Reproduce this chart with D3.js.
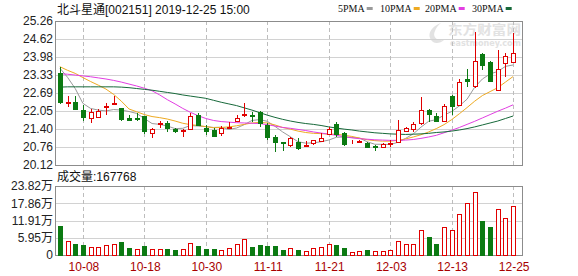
<!DOCTYPE html>
<html>
<head>
<meta charset="utf-8">
<script src="https://cdn.jsdelivr.net/npm/d3@7"></script>
<style>
  body { margin: 0; background: #fff; }
  svg { display: block; font-family: "Liberation Sans", Arial, "Noto Sans CJK SC", sans-serif; }
</style>
</head>
<body>
<svg id="chart" width="578" height="276"></svg>
<script>
var title = "北斗星通[002151] 2019-12-25 15:00";

var dates = ["09-26","09-27","09-30","10-08","10-09","10-10","10-11","10-14","10-15","10-16",
  "10-17","10-18","10-21","10-22","10-23","10-24","10-25","10-28","10-29","10-30",
  "10-31","11-01","11-04","11-05","11-06","11-07","11-08","11-11","11-12","11-13",
  "11-14","11-15","11-18","11-19","11-20","11-21","11-22","11-25","11-26","11-27",
  "11-28","11-29","12-02","12-03","12-04","12-05","12-06","12-09","12-10","12-11",
  "12-12","12-13","12-16","12-17","12-18","12-19","12-20","12-23","12-24","12-25"];

var opens = [23.39,22.33,22.36,22.07,21.78,21.82,22.18,22.30,22.16,21.78,
  21.81,21.88,21.25,21.57,21.61,21.39,21.35,21.39,21.90,21.45,
  21.37,21.25,21.45,21.69,21.92,21.92,22.00,21.55,21.13,20.93,
  20.83,20.95,20.81,20.89,20.97,21.23,21.60,21.25,20.89,20.93,
  20.91,20.79,20.77,20.87,20.95,21.32,21.39,21.61,22.08,21.88,
  21.70,22.58,22.26,23.18,22.93,24.09,23.81,22.80,23.75,23.81];
var highs = [23.63,22.59,22.59,22.26,22.11,22.11,22.34,22.59,22.16,21.90,
  21.96,21.88,21.45,21.69,21.69,21.45,21.40,21.96,21.96,21.55,
  21.43,21.51,21.64,21.90,22.32,22.02,22.05,21.61,21.19,20.95,
  21.13,21.07,20.97,21.03,21.25,21.49,21.65,21.31,21.01,21.01,
  20.95,20.83,20.89,21.01,21.72,21.47,21.64,22.56,22.12,21.96,
  22.28,22.62,23.20,23.53,24.86,24.11,23.83,24.22,24.11,24.82];
var lows = [22.30,22.18,22.08,21.69,21.61,21.82,21.90,22.28,21.69,21.72,
  21.69,21.22,21.07,21.43,21.31,21.28,21.11,21.39,21.53,21.19,
  21.13,21.16,21.43,21.66,21.84,21.66,21.49,21.01,20.57,20.62,
  20.77,20.65,20.77,20.85,20.93,21.19,21.13,20.79,20.87,20.91,
  20.71,20.63,20.77,20.77,20.89,21.31,21.31,21.55,21.66,21.66,
  21.69,21.90,22.24,22.91,22.88,23.51,23.08,22.77,23.27,23.75];
var closes = [22.36,22.38,22.11,21.84,22.01,22.06,22.24,22.33,21.75,21.74,
  21.76,21.34,21.39,21.62,21.43,21.32,21.38,21.88,21.55,21.33,
  21.16,21.43,21.47,21.81,21.95,21.88,21.61,21.13,20.95,20.91,
  21.07,20.71,20.84,21.01,21.10,21.40,21.22,20.88,20.92,20.96,
  20.77,20.78,20.87,20.89,21.37,21.43,21.58,22.08,21.94,21.69,
  22.22,22.24,23.07,23.12,23.83,23.69,23.12,23.53,24.01,24.11];

// volume in 手
var volumes = [99700,48000,38000,34000,29000,29000,34000,38000,43500,24000,
  19500,31000,20600,20600,19500,17200,19500,40000,31000,20600,
  20600,17200,23000,36600,54000,26300,34000,31000,31000,17200,
  23000,17200,13700,23000,28600,36600,34400,23000,9200,13700,
  17200,13700,13700,17200,48000,36600,36600,88000,60700,36600,
  95000,88000,140000,178000,218000,117000,95000,160000,129000,167768];

var ma5 = [23.58,23.25,22.85,22.32,22.14,22.08,22.05,22.10,22.08,22.03,
  21.96,21.78,21.60,21.57,21.51,21.42,21.43,21.53,21.51,21.49,
  21.46,21.47,21.39,21.44,21.56,21.71,21.74,21.68,21.50,21.30,
  21.13,20.95,20.90,20.91,20.95,21.01,21.11,21.12,21.10,21.08,
  20.95,20.86,20.86,20.85,20.93,21.07,21.23,21.47,21.68,21.74,
  21.90,22.03,22.23,22.47,22.90,23.19,23.37,23.46,23.64,23.69];
var ma10 = [23.63,23.50,23.39,23.24,23.10,22.97,22.83,22.64,22.40,22.12,
  22.02,21.92,21.85,21.81,21.76,21.69,21.61,21.56,21.53,21.49,
  21.45,21.46,21.48,21.52,21.57,21.62,21.64,21.62,21.55,21.46,
  21.40,21.33,21.28,21.25,21.24,21.22,21.22,21.18,21.14,21.08,
  21.02,20.99,20.97,20.97,21.00,21.05,21.12,21.20,21.30,21.42,
  21.56,21.74,21.95,22.17,22.40,22.60,22.74,22.88,23.08,23.28];
var ma20 = [23.38,23.36,23.33,23.30,23.27,23.23,23.19,23.14,23.08,23.01,
  22.94,22.86,22.77,22.62,22.45,22.30,22.14,22.00,21.88,21.78,
  21.71,21.67,21.65,21.63,21.62,21.61,21.60,21.56,21.51,21.46,
  21.43,21.39,21.35,21.30,21.26,21.22,21.18,21.13,21.09,21.06,
  21.04,21.02,21.01,21.00,21.00,21.01,21.03,21.07,21.12,21.18,
  21.27,21.36,21.46,21.57,21.68,21.80,21.92,22.04,22.15,22.27];
var ma30 = [22.90,22.91,22.91,22.91,22.91,22.91,22.91,22.91,22.90,22.88,
  22.85,22.82,22.79,22.75,22.71,22.67,22.62,22.58,22.54,22.50,
  22.43,22.36,22.30,22.24,22.16,22.08,21.99,21.90,21.82,21.75,
  21.69,21.64,21.60,21.57,21.53,21.48,21.44,21.40,21.37,21.33,
  21.30,21.27,21.25,21.23,21.22,21.21,21.22,21.23,21.25,21.28,
  21.30,21.33,21.37,21.42,21.48,21.55,21.62,21.69,21.78,21.87];

var dateTicks = ["10-08","10-18","10-30","11-11","11-21","12-03","12-13","12-25"];
var priceTicks = [25.26,24.62,23.98,23.33,22.69,22.05,21.40,20.76,20.12];
var volTicks = [0,59500,119100,178600,238200];
var volTickLabels = ["0","5.95万","11.91万","17.86万","23.82万"];

var maNames = ["5PMA","10PMA","20PMA","30PMA"];
var maSeries = [ma5, ma10, ma20, ma30];
var maColors = ["#9a9a9a","#eeaa22","#e23ee2","#17693a"];

var upColor = "#e00000";
var downColor = "#0b7a12";

var left = 55, right = 522, priceTop = 21, priceBottom = 165, volTop = 186, volBottom = 255;

var x = d3.scalePoint().domain(dates).range([56, 517]).padding(0.5);
var y = d3.scaleLinear().domain([20.12, 25.26]).range([priceBottom, priceTop]);
var yv = d3.scaleLinear().domain([0, 238200]).range([volBottom, volTop]);

function cx(d) { return Math.round(x(d)); }

var svg = d3.select("#chart");

// watermark
var wm = svg.append("g").attr("fill", "#e2e2e2");
wm.append("path")
  .attr("d", "M441,23 C430,27 426,36 433,42 C436,44 441,43 444,40 C437,41 432,37 435,31 C436,28 438,25 441,23 Z");
wm.append("text").attr("x", 448).attr("y", 34).attr("font-size", 13).attr("font-weight", "bold")
  .attr("font-family", "Noto Sans CJK SC").attr("textLength", 73).attr("lengthAdjust", "spacingAndGlyphs")
  .text("东方财富网");
wm.append("text").attr("x", 450).attr("y", 46).attr("font-size", 8).attr("font-weight", "bold")
  .attr("font-family", "DejaVu Sans").attr("textLength", 71).attr("lengthAdjust", "spacingAndGlyphs")
  .text("eastmoney.com");

// horizontal grid
svg.append("g")
  .attr("transform", "translate(" + left + ",0)")
  .call(d3.axisLeft(y).tickValues(priceTicks).tickSize(-(right - left)).tickFormat(""))
  .call(function(g) { g.select(".domain").remove(); })
  .selectAll("line").attr("stroke", "#d2d2d2").attr("shape-rendering", "crispEdges");

svg.append("g")
  .attr("transform", "translate(" + left + ",0)")
  .call(d3.axisLeft(yv).tickValues(volTicks).tickSize(-(right - left)).tickFormat(""))
  .call(function(g) { g.select(".domain").remove(); })
  .selectAll("line").attr("stroke", "#d2d2d2").attr("shape-rendering", "crispEdges");

// vertical dashed grid
var vgrid = svg.append("g").attr("stroke", "#bdbdbd").attr("stroke-dasharray", "4,3")
  .attr("shape-rendering", "crispEdges");
dateTicks.forEach(function(d) {
  vgrid.append("line").attr("x1", cx(d) + 0.5).attr("x2", cx(d) + 0.5)
    .attr("y1", priceTop).attr("y2", priceBottom);
  vgrid.append("line").attr("x1", cx(d) + 0.5).attr("x2", cx(d) + 0.5)
    .attr("y1", volTop).attr("y2", volBottom);
});

// panel frames
svg.append("rect").attr("x", left + 0.5).attr("y", priceTop + 0.5)
  .attr("width", right - left).attr("height", priceBottom - priceTop)
  .attr("fill", "none").attr("stroke", "#8c8c8c");
svg.append("rect").attr("x", left + 0.5).attr("y", volTop + 0.5)
  .attr("width", right - left).attr("height", volBottom - volTop)
  .attr("fill", "none").attr("stroke", "#8c8c8c");

// moving averages
var line = d3.line()
  .x(function(v, i) { return x(dates[i]); })
  .y(function(v) { return y(v); });
maSeries.forEach(function(s, k) {
  svg.append("path").datum(s).attr("d", line)
    .attr("fill", "none").attr("stroke", maColors[k]).attr("stroke-width", 1);
});

// candles
var candles = svg.append("g").selectAll("g").data(dates).enter().append("g");
candles.append("line")
  .attr("x1", function(d) { return cx(d) + 0.5; })
  .attr("x2", function(d) { return cx(d) + 0.5; })
  .attr("y1", function(d, i) { return Math.round(y(highs[i])); })
  .attr("y2", function(d, i) { return Math.round(y(lows[i])); })
  .attr("stroke", function(d, i) { return closes[i] >= opens[i] ? upColor : downColor; })
  .attr("shape-rendering", "crispEdges");
candles.append("rect")
  .attr("x", function(d) { return cx(d) - 1.5; })
  .attr("y", function(d, i) { return Math.round(y(Math.max(opens[i], closes[i]))) + 0.5; })
  .attr("width", 4)
  .attr("height", function(d, i) {
    return Math.max(0, Math.round(y(Math.min(opens[i], closes[i]))) - Math.round(y(Math.max(opens[i], closes[i]))));
  })
  .attr("fill", function(d, i) { return closes[i] >= opens[i] ? "#fff" : downColor; })
  .attr("stroke", function(d, i) { return closes[i] >= opens[i] ? upColor : downColor; })
  .attr("shape-rendering", "crispEdges");

// volume bars, coloured by change against the previous close
function volUp(i) { return i === 0 ? closes[0] >= opens[0] : closes[i] >= closes[i - 1]; }
svg.append("g").selectAll("rect").data(dates).enter().append("rect")
  .attr("x", function(d) { return cx(d) - 1.5; })
  .attr("y", function(d, i) { return Math.round(yv(volumes[i])) + 0.5; })
  .attr("width", 4)
  .attr("height", function(d, i) { return volBottom - Math.round(yv(volumes[i])) - 0.5; })
  .attr("fill", function(d, i) { return volUp(i) ? "#fff" : downColor; })
  .attr("stroke", function(d, i) { return volUp(i) ? upColor : downColor; })
  .attr("shape-rendering", "crispEdges");

// axes labels
svg.append("g")
  .attr("transform", "translate(" + left + ",0)")
  .call(d3.axisLeft(y).tickValues(priceTicks).tickSize(0).tickPadding(2).tickFormat(d3.format(".2f")))
  .call(function(g) { g.select(".domain").remove(); })
  .selectAll("text").attr("font-size", 12).attr("font-family", "Liberation Sans, Arial").attr("fill", "#222");

svg.append("g")
  .attr("transform", "translate(" + left + ",0)")
  .call(d3.axisLeft(yv).tickValues(volTicks).tickSize(0).tickPadding(2)
    .tickFormat(function(d, i) { return volTickLabels[i]; }))
  .call(function(g) { g.select(".domain").remove(); })
  .selectAll("text").attr("font-size", 12).attr("font-family", "Liberation Sans, Noto Sans CJK SC").attr("fill", "#222");

svg.append("g")
  .attr("transform", "translate(0.5," + volBottom + ")")
  .call(d3.axisBottom(x).tickValues(dateTicks).tickSize(0).tickPadding(7))
  .call(function(g) { g.select(".domain").remove(); })
  .selectAll("text").attr("font-size", 12).attr("font-family", "Liberation Sans, Arial").attr("fill", "#a80000");

// header
svg.append("text").attr("x", 57).attr("y", 14).attr("font-size", 12).attr("fill", "#111")
  .text(title);

var legendX = [338, 380, 425, 472];
var legend = svg.append("g").attr("font-family", "Liberation Serif, serif").attr("font-size", 10).attr("fill", "#111");
maNames.forEach(function(name, k) {
  var t = legend.append("text").attr("x", legendX[k]).attr("y", 12).text(name);
  var w = t.node().getComputedTextLength();
  legend.append("rect").attr("x", legendX[k] + w + 2).attr("y", 7)
    .attr("width", 6).attr("height", 3).attr("fill", maColors[k]);
});

svg.append("text").attr("x", 57).attr("y", 181).attr("font-size", 12).attr("fill", "#111")
  .text("成交量:" + volumes[volumes.length - 1]);
</script>
</body>
</html>
